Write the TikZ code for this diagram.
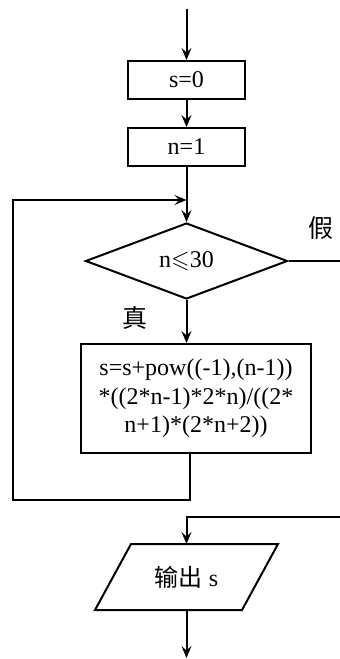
\documentclass[tikz,border=0pt]{standalone}
\usepackage{amssymb}
\usepackage{fontspec}
\setmainfont{Liberation Serif}
\newfontfamily\cjk{Noto Sans CJK SC}
\usetikzlibrary{arrows.meta,shapes.geometric}

\begin{document}
\begin{tikzpicture}[x=1pt,y=-1pt,
  line width=2pt,
  every node/.style={font=\fontsize{24}{28.5}\selectfont, inner sep=0pt},
  flow/.style={-{Stealth[length=12pt,width=10pt,inset=4.5pt]}},
  proc/.style={draw, rectangle, line width=2pt},
  decision/.style={draw, diamond, line width=2pt},
  iobox/.style={rectangle},
  tag/.style={font=\fontsize{25}{28}\selectfont\cjk}]
\useasboundingbox (0,0) rectangle (340,659);

% blocks of the flow chart
\node[proc, minimum width=117pt, minimum height=38pt] (s0) at (186.5,80) {s=0};
\node[proc, minimum width=117pt, minimum height=38pt] (n1) at (186.5,147) {n=1};
\node[decision, minimum width=202pt, minimum height=76pt] (cond) at (186.5,261) {n$\leqslant$30};
\node[proc, minimum width=230pt, minimum height=109pt, align=center] (body) at (196,398.5)
  {s=s+pow((-1),(n-1))\\{}*((2*n-1)*2*n)/((2*\\{}n+1)*(2*n+2))};
\node[iobox, minimum width=181pt, minimum height=64pt] (out) at (186.5,577) {{\cjk 输出} s};
\draw[line width=2pt] ([xshift=36pt]out.north west) -- (out.north east)
  -- ([xshift=-36pt]out.south east) -- (out.south west) -- cycle;

% branch labels
\node[tag] (no) at (321,228) {假};
\node[tag] (yes) at (135,318) {真};

% helper points for the open ends and the loop
\coordinate (start) at (186.5,9);
\coordinate (finish) at (186.5,658);
\coordinate (joint) at (186.5,200);
\coordinate (lp1) at (190,500);
\coordinate (lp2) at (13,500);
\coordinate (lp3) at (13,200);
\coordinate (exitR) at (340,261);
\coordinate (backR) at (340,517);

% connectors
\draw[flow] (start) -- (s0.north);
\draw[flow] (s0.south) -- (n1.north);
\draw[flow] (n1.south) -- (cond.north);
\draw[flow] (cond.south) -- (cond.south |- body.north);
\draw[flow] (body.south -| lp1) -- (lp1) -- (lp2) -- (lp3) -- (joint);
\draw (cond.east) -- (exitR);
\draw[flow] (backR) -- (backR -| out.north) -- (out.north);
\draw[flow] (out.south) -- (finish);
\end{tikzpicture}
\end{document}
